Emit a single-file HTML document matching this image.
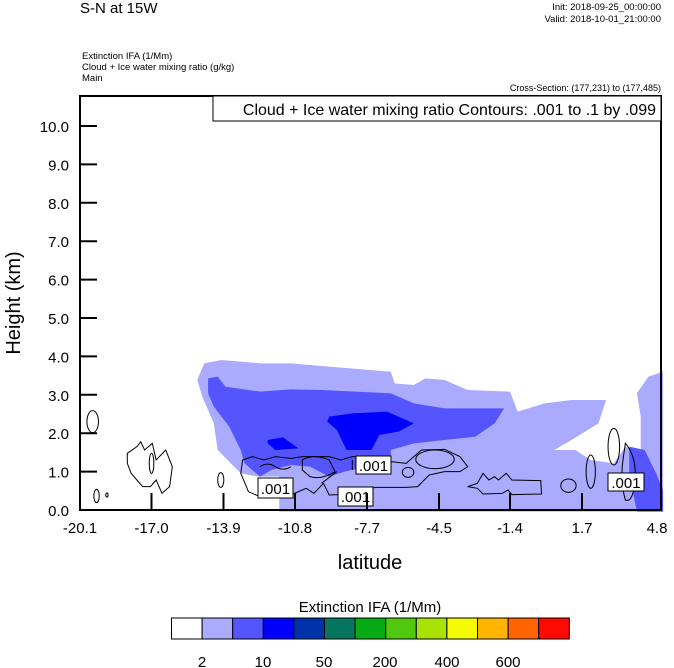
<!DOCTYPE html>
<html><head><meta charset="utf-8"><style>
html,body{margin:0;padding:0;background:#fff;}
svg{display:block;font-family:"Liberation Sans",sans-serif;}
</style></head><body>
<svg width="674" height="668" viewBox="0 0 674 668" xmlns="http://www.w3.org/2000/svg">
<text x="80" y="13" font-size="15">S-N at 15W</text>
<text x="661" y="10" font-size="9.5" text-anchor="end">Init: 2018-09-25_00:00:00</text>
<text x="661" y="22" font-size="9.5" text-anchor="end">Valid: 2018-10-01_21:00:00</text>
<text x="82" y="59" font-size="9.5">Extinction IFA  (1/Mm)</text>
<text x="82" y="70" font-size="9.5">Cloud + Ice water mixing ratio   (g/kg)</text>
<text x="82" y="81" font-size="9.5">Main</text>
<text x="661" y="91" font-size="9" text-anchor="end">Cross-Section: (177,231) to (177,485)</text>

<g transform="translate(60,340) scale(0.3846,0.3333)">
<path fill="#aaaaff" d="M570,515 L570,410 L515,410 L470,400 L410,330 L400,250 L370,170 L357,120 L375,70 L420,60 L520,70 L600,70 L700,80 L860,95 L870,130 L920,135 L950,115 L1000,120 L1060,150 L1170,155 L1190,215 L1260,190 L1330,180 L1420,180 L1400,250 L1330,300 L1285,330 L1340,330 L1380,360 L1440,370 L1470,320 L1510,340 L1510,230 L1500,160 L1530,110 L1568,95 L1568,515 Z"/>
<path fill="#5555ff" d="M385,115 L410,110 L430,140 L520,155 L600,148 L680,150 L860,160 L920,190 L1000,205 L1155,205 L1130,250 L1080,290 L1000,300 L920,310 L860,330 L860,370 L800,380 L740,395 L700,410 L650,380 L600,375 L550,390 L520,410 L480,370 L470,330 L440,260 L400,200 L385,160 Z"/>
<path fill="#5555ff" d="M1480,320 L1520,330 L1550,400 L1568,450 L1568,515 L1500,515 L1480,400 Z"/>
<path fill="#0000ff" d="M700,230 L760,220 L850,215 L920,250 L880,275 L830,285 L810,330 L745,330 L720,270 L695,245 Z"/>
<path fill="#0000ff" d="M540,300 L580,292 L620,325 L560,330 L540,310 Z"/>
<g fill="none" stroke="#000" stroke-width="1" vector-effect="non-scaling-stroke">
<ellipse vector-effect="non-scaling-stroke" cx="85" cy="245" rx="15" ry="33"/>
<ellipse vector-effect="non-scaling-stroke" cx="95" cy="468" rx="7" ry="20"/>
<ellipse vector-effect="non-scaling-stroke" cx="122" cy="465" rx="3" ry="6"/>
<path vector-effect="non-scaling-stroke" d="M175,340 L200,320 L210,305 L220,330 L240,310 L250,360 L275,330 L292,380 L285,440 L265,460 L250,420 L235,440 L215,440 L200,420 L185,400 L175,370 Z"/>
<ellipse vector-effect="non-scaling-stroke" cx="238" cy="370" rx="6" ry="30"/>
<ellipse vector-effect="non-scaling-stroke" cx="418" cy="420" rx="8" ry="22"/>
<path vector-effect="non-scaling-stroke" d="M475,360 L500,350 L530,360 L560,350 L600,355 L630,350 L700,350 L730,360 L760,350 L820,348 L860,365 L900,370 L940,330 L1000,328 L1040,350 L1060,380 L1040,395 L1000,395 L960,405 L930,440 L900,442 L820,442 L760,462 L700,465 L685,430 L660,460 L640,445 L610,460 L560,460 L520,470 L490,455 L470,400 Z"/>
<path vector-effect="non-scaling-stroke" d="M520,380 Q540,365 560,380 Q580,395 600,380 M630,360 Q660,340 700,360 L715,395 Q680,420 650,410 L630,390 Z M760,360 L760,390 M680,430 L720,395"/>
<ellipse vector-effect="non-scaling-stroke" cx="905" cy="397" rx="15" ry="15"/>
<ellipse vector-effect="non-scaling-stroke" cx="975" cy="358" rx="50" ry="28"/>
<path vector-effect="non-scaling-stroke" d="M1090,420 L1100,400 L1115,420 L1130,410 L1140,420 L1160,400 L1175,420 L1250,422 L1252,462 L1175,464 L1165,450 L1150,460 L1100,462 L1085,445 L1060,440 L1085,430 Z"/>
<ellipse vector-effect="non-scaling-stroke" cx="1322" cy="437" rx="20" ry="20"/>
<ellipse vector-effect="non-scaling-stroke" cx="1380" cy="395" rx="12" ry="50"/>
<ellipse vector-effect="non-scaling-stroke" cx="1440" cy="320" rx="15" ry="55"/>
<path vector-effect="non-scaling-stroke" d="M1470,310 Q1500,350 1495,420 Q1490,490 1470,480 Q1455,420 1465,350 Z"/>
</g>
</g>
<g stroke="#000" stroke-width="1" fill="#fff">
<rect x="258" y="478" width="35" height="20"/>
<rect x="356" y="456" width="35" height="18"/>
<rect x="338" y="487" width="35" height="19"/>
<rect x="608" y="473" width="36" height="18"/>
</g>
<g font-size="15" text-anchor="middle">
<text x="275.5" y="494">.001</text>
<text x="373.5" y="471">.001</text>
<text x="355.5" y="502">.001</text>
<text x="626" y="488">.001</text>
</g>

<rect x="80" y="96" width="581" height="414" fill="none" stroke="#000" stroke-width="2"/>
<rect x="213" y="96" width="448" height="25" fill="#fff" stroke="#000" stroke-width="1"/>
<text x="656" y="115" font-size="16" text-anchor="end">Cloud + Ice water mixing ratio Contours: .001 to .1 by .099</text>

<g stroke="#000" stroke-width="2">
<line x1="80" y1="471.6" x2="97" y2="471.6"/><line x1="80" y1="433.2" x2="97" y2="433.2"/>
<line x1="80" y1="394.8" x2="97" y2="394.8"/><line x1="80" y1="356.4" x2="97" y2="356.4"/>
<line x1="80" y1="318" x2="97" y2="318"/><line x1="80" y1="279.6" x2="97" y2="279.6"/>
<line x1="80" y1="241.2" x2="97" y2="241.2"/><line x1="80" y1="202.8" x2="97" y2="202.8"/>
<line x1="80" y1="164.4" x2="97" y2="164.4"/><line x1="80" y1="126" x2="97" y2="126"/>
<line x1="151.5" y1="510" x2="151.5" y2="493"/><line x1="223.5" y1="510" x2="223.5" y2="493"/>
<line x1="295" y1="510" x2="295" y2="493"/><line x1="367" y1="510" x2="367" y2="493"/>
<line x1="439" y1="510" x2="439" y2="493"/><line x1="510" y1="510" x2="510" y2="493"/>
<line x1="582" y1="510" x2="582" y2="493"/>
</g>
<g font-size="15" text-anchor="end">
<text x="69" y="516">0.0</text><text x="69" y="477.6">1.0</text><text x="69" y="439.2">2.0</text>
<text x="69" y="400.8">3.0</text><text x="69" y="362.4">4.0</text><text x="69" y="324">5.0</text>
<text x="69" y="285.6">6.0</text><text x="69" y="247.2">7.0</text><text x="69" y="208.8">8.0</text>
<text x="69" y="170.4">9.0</text><text x="69" y="132">10.0</text>
</g>
<g font-size="15" text-anchor="middle">
<text x="80" y="533">-20.1</text><text x="151.5" y="533">-17.0</text><text x="223.5" y="533">-13.9</text>
<text x="295" y="533">-10.8</text><text x="367" y="533">-7.7</text><text x="439" y="533">-4.5</text>
<text x="510" y="533">-1.4</text><text x="582" y="533">1.7</text><text x="657" y="533">4.8</text>
</g>
<text x="370" y="569" font-size="20" text-anchor="middle">latitude</text>
<text transform="translate(20,303) rotate(-90)" font-size="20" text-anchor="middle">Height (km)</text>

<text x="370" y="612" font-size="15" text-anchor="middle">Extinction IFA  (1/Mm)</text>
<g stroke="#000" stroke-width="1">
<rect x="171.5" y="618" width="30.6" height="21" fill="#ffffff"/>
<rect x="202.1" y="618" width="30.6" height="21" fill="#aaaaff"/>
<rect x="232.7" y="618" width="30.6" height="21" fill="#5555ff"/>
<rect x="263.3" y="618" width="30.6" height="21" fill="#0000ff"/>
<rect x="293.9" y="618" width="30.6" height="21" fill="#0033aa"/>
<rect x="324.5" y="618" width="30.6" height="21" fill="#057560"/>
<rect x="355.1" y="618" width="30.6" height="21" fill="#05aa15"/>
<rect x="385.7" y="618" width="30.6" height="21" fill="#50c810"/>
<rect x="416.3" y="618" width="30.6" height="21" fill="#aae205"/>
<rect x="446.9" y="618" width="30.6" height="21" fill="#f5fa05"/>
<rect x="477.5" y="618" width="30.6" height="21" fill="#ffb400"/>
<rect x="508.1" y="618" width="30.6" height="21" fill="#ff6400"/>
<rect x="538.7" y="618" width="30.6" height="21" fill="#ff0a00"/>
</g>
<g font-size="15" text-anchor="middle">
<text x="202" y="667">2</text><text x="263" y="667">10</text><text x="324" y="667">50</text>
<text x="385" y="667">200</text><text x="447" y="667">400</text><text x="508" y="667">600</text>
</g>
</svg>
</body></html>
